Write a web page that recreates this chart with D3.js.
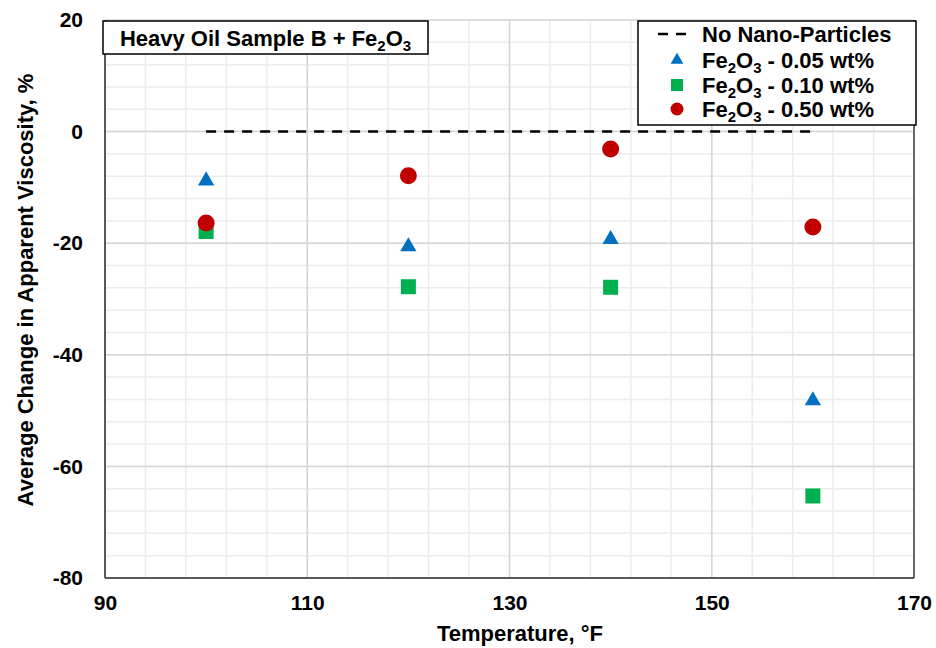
<!DOCTYPE html>
<html>
<head>
<meta charset="utf-8">
<script src="https://cdn.jsdelivr.net/npm/d3@7/dist/d3.min.js"></script>
<style>
  html, body { margin: 0; padding: 0; background: #fff; }
  svg { display: block; font-family: Arial, "Liberation Sans", sans-serif; }
</style>
</head>
<body>
<svg id="chart" width="936" height="648"></svg>
<script>
// Temperatures (°F) at which viscosity was measured
const temperatures = [100, 120, 140, 160];
// Average change in apparent viscosity (%) by Fe2O3 loading
const fe005 = [-8.8, -20.6, -19.3, -48.2];
const fe010 = [-17.9, -27.8, -27.9, -65.3];
const fe050 = [-16.4, -7.9, -3.1, -17.1];
// Baseline without nano-particles
const baseline = [0, 0, 0, 0];

const xTicks = [90, 110, 130, 150, 170];
const yTicks = [-80, -60, -40, -20, 0, 20];
const loadings = ["0.05", "0.10", "0.50"];

const svg = d3.select("#chart");
const margin = { left: 105, right: 22, top: 20, bottom: 70 };
const W = 936, H = 648;
const x = d3.scaleLinear().domain([90, 170]).range([margin.left, W - margin.right]);
const y = d3.scaleLinear().domain([-80, 20]).range([H - margin.bottom, margin.top]);

const FS = 21;   // tick labels
const LFS = 22;  // title, legend, axis titles
const plot = svg.append("g");

// minor grid
const xMinor = d3.range(90, 170.01, 4);
const yMinor = d3.range(-80, 20.01, 4);
plot.append("g").selectAll("line").data(xMinor).join("line")
  .attr("x1", d => x(d)).attr("x2", d => x(d))
  .attr("y1", y(-80)).attr("y2", y(20))
  .attr("stroke", "#ececec").attr("stroke-width", 1.5);
plot.append("g").selectAll("line").data(yMinor).join("line")
  .attr("y1", d => y(d)).attr("y2", d => y(d))
  .attr("x1", x(90)).attr("x2", x(170))
  .attr("stroke", "#ececec").attr("stroke-width", 1.5);
// major grid
plot.append("g").selectAll("line").data(xTicks).join("line")
  .attr("x1", d => x(d)).attr("x2", d => x(d))
  .attr("y1", y(-80)).attr("y2", y(20))
  .attr("stroke", "#d6d6d6").attr("stroke-width", 1.5);
plot.append("g").selectAll("line").data(yTicks).join("line")
  .attr("y1", d => y(d)).attr("y2", d => y(d))
  .attr("x1", x(90)).attr("x2", x(170))
  .attr("stroke", "#d6d6d6").attr("stroke-width", 1.5);

// axes
const fmt = d => String(d);
const xAxis = d3.axisBottom(x).tickValues(xTicks).tickFormat(fmt).tickSize(0).tickPadding(17);
const yAxis = d3.axisLeft(y).tickValues(yTicks).tickFormat(fmt).tickSize(0).tickPadding(22);
const gx = svg.append("g").attr("transform", `translate(0,${y(-80)})`).call(xAxis);
const gy = svg.append("g").attr("transform", `translate(${x(90)},0)`).call(yAxis);
[gx, gy].forEach(g => {
  g.select(".domain").remove();
  g.selectAll("text").attr("font-size", FS).attr("font-weight", "bold")
    .attr("fill", "#000").attr("font-family", "Arial, 'Liberation Sans', sans-serif");
});

// plot frame
svg.append("line").attr("x1", x(90)).attr("x2", x(90)).attr("y1", y(20)).attr("y2", y(-80))
  .attr("stroke", "#595959").attr("stroke-width", 2);
svg.append("line").attr("x1", x(90)).attr("x2", x(170)).attr("y1", y(-80)).attr("y2", y(-80))
  .attr("stroke", "#595959").attr("stroke-width", 2);
svg.append("line").attr("x1", x(170)).attr("x2", x(170)).attr("y1", y(20)).attr("y2", y(-80))
  .attr("stroke", "#404040").attr("stroke-width", 1.5);

// baseline
svg.append("path")
  .attr("d", d3.line().x((d, i) => x(temperatures[i])).y(d => y(d))(baseline))
  .attr("fill", "none").attr("stroke", "#000").attr("stroke-width", 2.5)
  .attr("stroke-dasharray", "10,8");

const blue = "#0070C0", green = "#00B050", red = "#C00000";

// markers
svg.append("g").selectAll("path").data(fe005).join("path")
  .attr("transform", (d, i) => `translate(${x(temperatures[i])},${y(d)})`)
  .attr("d", d3.symbol(d3.symbolTriangle, 115))
  .attr("fill", blue);
svg.append("g").selectAll("rect").data(fe010).join("rect")
  .attr("x", (d, i) => x(temperatures[i]) - 7.5).attr("y", d => y(d) - 7.5)
  .attr("width", 15).attr("height", 15).attr("fill", green);
svg.append("g").selectAll("circle").data(fe050).join("circle")
  .attr("cx", (d, i) => x(temperatures[i])).attr("cy", d => y(d))
  .attr("r", 8.5).attr("fill", red);

// Fe2O3 with subscripts
function fe2o3(t) {
  t.append("tspan").text("Fe");
  t.append("tspan").text("2").attr("font-size", LFS * 0.68).attr("dy", 5);
  t.append("tspan").text("O").attr("dy", -5);
  t.append("tspan").text("3").attr("font-size", LFS * 0.68).attr("dy", 5);
}

// title box
const tb = svg.append("g");
tb.append("rect").attr("x", 103).attr("y", 21).attr("width", 325).attr("height", 33)
  .attr("fill", "#fff").attr("stroke", "#000").attr("stroke-width", 1.5);
const tt = tb.append("text").attr("x", 265.5).attr("y", 45.5).attr("text-anchor", "middle")
  .attr("font-size", LFS).attr("font-weight", "bold");
tt.append("tspan").text("Heavy Oil Sample B + ");
fe2o3(tt);

// legend
const lg = svg.append("g");
lg.append("rect").attr("x", 638).attr("y", 21).attr("width", 278).attr("height", 104)
  .attr("fill", "#fff").attr("stroke", "#000").attr("stroke-width", 1.5);
const rows = [34, 60, 85, 109];
lg.append("line").attr("x1", 658).attr("x2", 689).attr("y1", rows[0]).attr("y2", rows[0])
  .attr("stroke", "#000").attr("stroke-width", 2.5).attr("stroke-dasharray", "10,8");
lg.append("path").attr("transform", `translate(677,${rows[1]})`)
  .attr("d", d3.symbol(d3.symbolTriangle, 70)).attr("fill", blue);
lg.append("rect").attr("x", 671).attr("y", rows[2] - 6).attr("width", 12).attr("height", 12).attr("fill", green);
lg.append("circle").attr("cx", 677).attr("cy", rows[3]).attr("r", 6.5).attr("fill", red);
lg.append("text").attr("x", 702).attr("y", rows[0] + 8)
  .attr("font-size", LFS).attr("font-weight", "bold").text("No Nano-Particles");
loadings.forEach((c, i) => {
  const t = lg.append("text").attr("x", 702).attr("y", rows[i + 1] + 8)
    .attr("font-size", LFS).attr("font-weight", "bold");
  fe2o3(t);
  t.append("tspan").text(` - ${c} wt%`).attr("dy", -5);
});

// axis titles
svg.append("text").attr("x", 520).attr("y", 641).attr("text-anchor", "middle")
  .attr("font-size", LFS).attr("font-weight", "bold").text("Temperature, °F");
svg.append("text").attr("transform", `translate(33,290) rotate(-90)`)
  .attr("text-anchor", "middle").attr("font-size", LFS).attr("font-weight", "bold")
  .text("Average Change in Apparent Viscosity, %");
</script>
</body>
</html>
